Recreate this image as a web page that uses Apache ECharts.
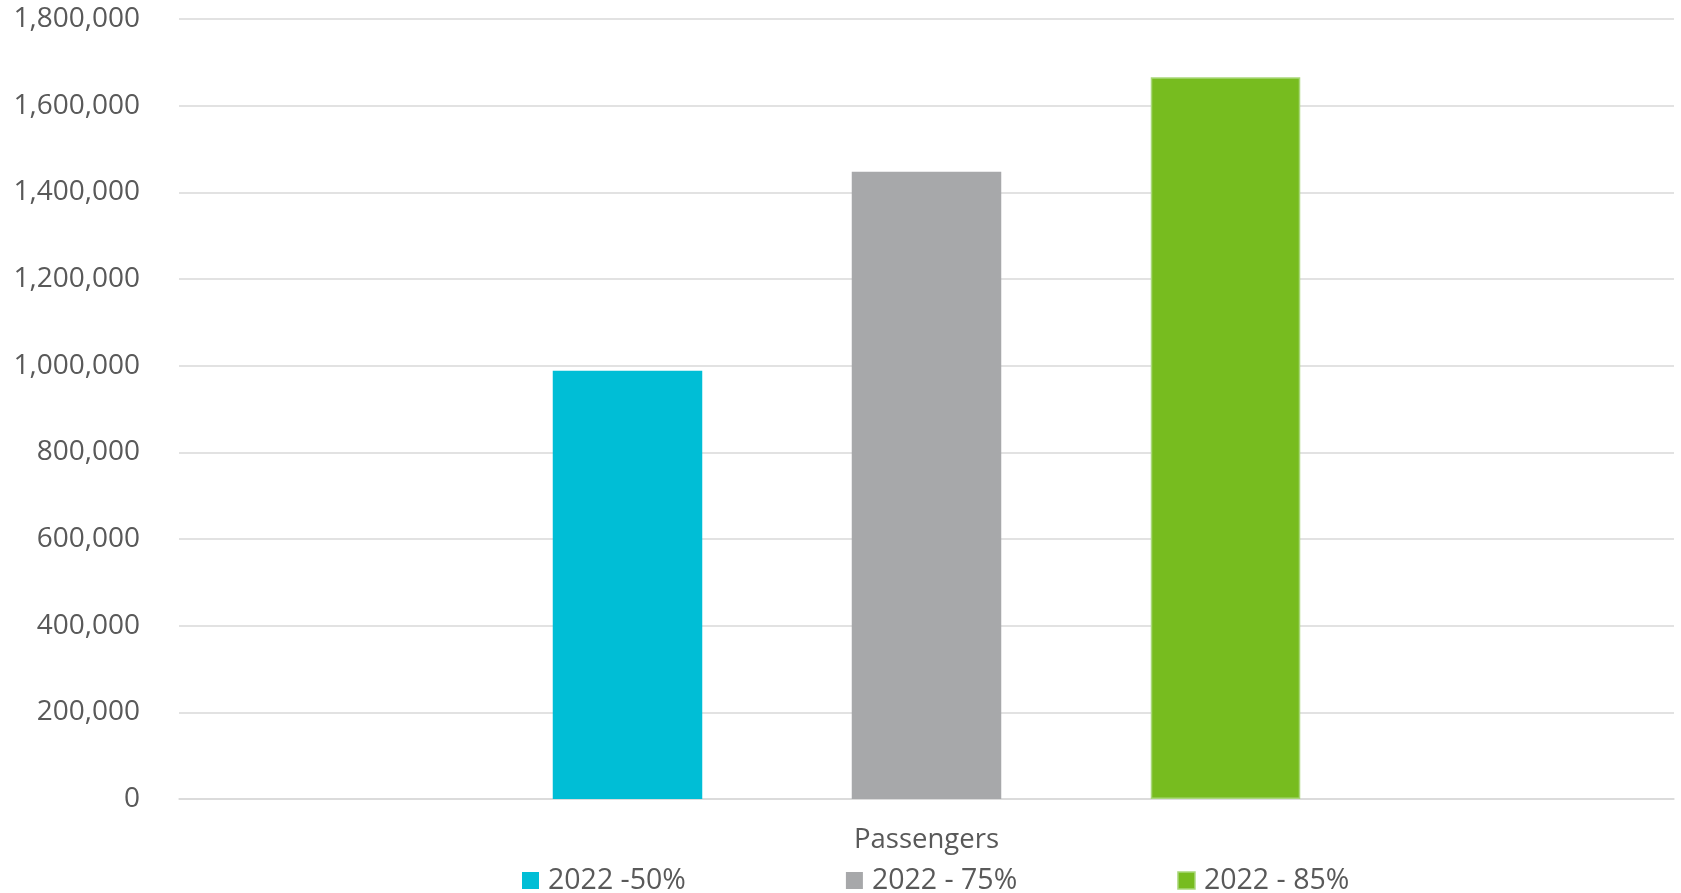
<!DOCTYPE html>
<html>
<head>
<meta charset="utf-8">
<script src="https://cdn.jsdelivr.net/npm/echarts@6/dist/echarts.min.js"></script>
<style>
	html, body { margin: 0; padding: 0; background: #fff; }
	#chart { width: 1681px; height: 893px; }
</style>
</head>
<body>
<div id="chart"></div>
<script>
var categories = ['Passengers'];
var seriesNames = ['2022 -50%', '2022 - 75%', '2022 - 85%'];
var seriesValues = [[988000], [1447500], [1665500]];
var seriesColors = ['#00BED6', '#A7A8AA', '#77BC1F'];
var seriesBorders = ['#00BED6', '#A7A8AA', '#A9D77A'];

var chart = echarts.init(document.getElementById('chart'));

var series = seriesNames.map(function(name, i){
	return {
		name: name,
		type: 'bar',
		data: seriesValues[i],
		barGap: '100%',
		barCategoryGap: '50%',
		itemStyle: {
			color: seriesColors[i],
			borderColor: seriesBorders[i],
			borderWidth: i == 2 ? 1.5 : 0
		}
	};
});

chart.setOption({
	animation: false,
	textStyle: { fontFamily: 'Open Sans' },
	grid: {
		left: 179,
		right: 7,
		top: 19,
		bottom: 94
	},
	legend: {
		top: 866,
		left: 522,
		padding: 0,
		itemWidth: 17,
		itemHeight: 17,
		itemGap: 160,
		icon: 'rect',
		data: seriesNames.map(function(n, i){
			return { name: n, itemStyle: { borderColor: seriesBorders[i], borderWidth: i == 2 ? 1.5 : 0 } };
		}),
		textStyle: { fontSize: 28.5, color: '#595959', fontFamily: 'Open Sans', padding: [0, 0, 0, 4] }
	},
	xAxis: {
		type: 'category',
		data: categories,
		axisLine: { lineStyle: { color: '#D9D9D9', width: 1.5 } },
		axisTick: { show: false },
		axisLabel: { fontSize: 27.5, color: '#595959', margin: 27, fontFamily: 'Open Sans' }
	},
	yAxis: {
		type: 'value',
		min: 0,
		max: 1800000,
		interval: 200000,
		axisLine: { show: false },
		axisTick: { show: false },
		splitLine: { lineStyle: { color: '#D9D9D9', width: 1.5 } },
		axisLabel: {
			fontSize: 28,
			color: '#595959',
			margin: 39,
			fontFamily: 'Open Sans',
			formatter: function(v){ return v.toLocaleString('en-US'); }
		}
	},
	series: series
});
</script>
</body>
</html>
